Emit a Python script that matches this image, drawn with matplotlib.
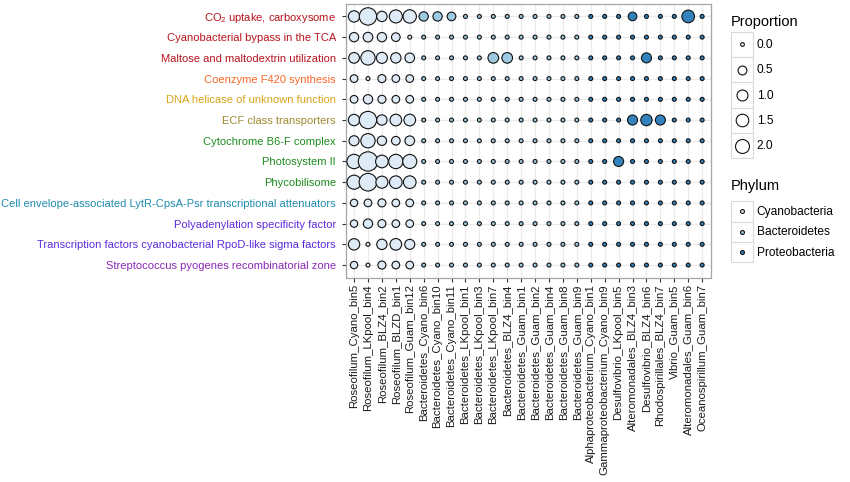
import numpy as np
import matplotlib
matplotlib.use("Agg")
import matplotlib.pyplot as plt
from matplotlib.lines import Line2D
from matplotlib.patches import Rectangle
from matplotlib.legend_handler import HandlerBase

plt.rcParams['font.family'] = ['Liberation Sans', 'DejaVu Sans']
plt.rcParams['mathtext.fontset'] = 'custom'
plt.rcParams['mathtext.rm'] = 'Liberation Sans'
plt.rcParams['mathtext.it'] = 'Liberation Sans:italic'

# ---------------- data ----------------
functions = [
    r"CO$_\mathrm{2}$ uptake, carboxysome",
    "Cyanobacterial bypass in the TCA",
    "Maltose and maltodextrin utilization",
    "Coenzyme F420 synthesis",
    "DNA helicase of unknown function",
    "ECF class transporters",
    "Cytochrome B6-F complex",
    "Photosystem II",
    "Phycobilisome",
    "Cell envelope-associated LytR-CpsA-Psr transcriptional attenuators",
    "Polyadenylation specificity factor",
    "Transcription factors cyanobacterial RpoD-like sigma factors",
    "Streptococcus pyogenes recombinatorial zone",
]
function_colors = ['#B8141E', '#B8141E', '#B8141E', '#F8692A', '#D9A41A', '#9E8B30',
                   '#1E8B1E', '#1E8B1E', '#1E8B1E', '#1F8AB0', '#5B2BDD', '#5B2BDD', '#8A28B5']

bins = [
    "Roseofilum_Cyano_bin5", "Roseofilum_LKpool_bin4", "Roseofilum_BLZ4_bin2",
    "Roseofilum_BLZD_bin1", "Roseofilum_Guam_bin12",
    "Bacteroidetes_Cyano_bin6", "Bacteroidetes_Cyano_bin10", "Bacteroidetes_Cyano_bin11",
    "Bacteroidetes_LKpool_bin1", "Bacteroidetes_LKpool_bin3", "Bacteroidetes_LKpool_bin7",
    "Bacteroidetes_BLZ4_bin4", "Bacteroidetes_Guam_bin1", "Bacteroidetes_Guam_bin2",
    "Bacteroidetes_Guam_bin4", "Bacteroidetes_Guam_bin8", "Bacteroidetes_Guam_bin9",
    "Alphaproteobacterium_Cyano_bin1", "Gammaproteobacterium_Cyano_bin9",
    "Desulfovibrio_LKpool_bin5", "Alteromonadales_BLZ4_bin3", "Desulfovibrio_BLZ4_bin6",
    "Rhodospirillales_BLZ4_bin7", "Vibrio_Guam_bin5", "Alteromonadales_Guam_bin6",
    "Oceanospirillum_Guam_bin7",
]
phylum = (["Cyanobacteria"] * 5 + ["Bacteroidetes"] * 12 + ["Proteobacteria"] * 9)
phyla = ["Cyanobacteria", "Bacteroidetes", "Proteobacteria"]
phylum_colors = {"Cyanobacteria": "#DEEBF7", "Bacteroidetes": "#9ECAE1", "Proteobacteria": "#3182BD"}

z = 0
proportion = [
    [0.95, 3.11, 0.71, 1.43, 1.53, 0.50, 0.50, 0.38, z, z, z, z, z, z, z, z, z, z, z, z, 0.38, z, z, z, 1.31, z],
    [0.50, 0.56, 0.50, 0.38, z, z, z, z, z, z, z, z, z, z, z, z, z, z, z, z, z, z, z, z, z, z],
    [0.78, 1.87, 0.87, 0.71, 0.56, z, z, z, z, z, 0.78, 0.78, z, z, z, z, z, z, z, z, z, 0.64, z, z, z, z],
    [0.24, z, 0.29, 0.24, 0.24, z, z, z, z, z, z, z, z, z, z, z, z, z, z, z, z, z, z, z, z, z],
    [0.24, 0.50, 0.29, 0.24, 0.24, z, z, z, z, z, z, z, z, z, z, z, z, z, z, z, z, z, z, z, z, z],
    [0.95, 3.11, 0.71, 1.03, 1.03, z, z, z, z, z, z, z, z, z, z, z, z, z, z, z, 0.64, 0.95, 0.64, z, z, z],
    [0.64, 1.87, 0.50, 0.38, 0.56, z, z, z, z, z, z, z, z, z, z, z, z, z, z, z, z, z, z, z, z, z],
    [1.87, 4.10, 1.31, 1.87, 1.77, z, z, z, z, z, z, z, z, z, z, z, z, z, z, 0.64, z, z, z, z, z, z],
    [1.77, 3.25, 1.14, 1.31, 1.31, z, z, z, z, z, z, z, z, z, z, z, z, z, z, z, z, z, z, z, z, z],
    [0.20, 0.24, 0.29, 0.24, 0.24, z, z, z, z, z, z, z, z, z, z, z, z, z, z, z, z, z, z, z, z, z],
    [0.20, 0.50, 0.29, 0.24, 0.24, z, z, z, z, z, z, z, z, z, z, z, z, z, z, z, z, z, z, z, z, z],
    [0.95, z, 0.71, 1.03, 0.64, z, z, z, z, z, z, z, z, z, z, z, z, z, z, z, z, z, z, z, z, z],
    [0.20, z, 0.29, 0.24, 0.24, z, z, z, z, z, z, z, z, z, z, z, z, z, z, z, z, z, z, z, z, z],
]
size_breaks = [0.0, 0.5, 1.0, 1.5, 2.0]

# ---------------- styling helpers ----------------
DPI = 100
W, H = 850, 482
EDGE_LW = 0.8  # pt


def diam_px(p):
    return 4.6 + 7.6 * np.sqrt(p)


def marker_pt(p):
    return diam_px(p) * 72.0 / DPI - EDGE_LW * 0.6


fig = plt.figure(figsize=(W / DPI, H / DPI), dpi=DPI)
left, right, top, bottom = 345.7, 710.5, 4.0, 277.5
ax = fig.add_axes([left / W, 1 - bottom / H, (right - left) / W, (bottom - top) / H])

prop = np.array(proportion, dtype=float)
nrow, ncol = prop.shape
xx, yy = np.meshgrid(np.arange(ncol), np.arange(nrow))
cols = np.array([[phylum_colors[phylum[j]] for j in range(ncol)] for i in range(nrow)])
sizes = marker_pt(prop) ** 2
ax.scatter(xx.ravel(), yy.ravel(), s=sizes.ravel(), c=cols.ravel(),
           edgecolors='#111111', linewidths=EDGE_LW, zorder=3, clip_on=False)

ax.set_xlim(-0.6, ncol - 0.4)
ax.set_ylim(nrow - 0.4, -0.6)
ax.set_xticks(np.arange(ncol))
ax.set_yticks(np.arange(nrow))
ax.set_xticklabels(bins, rotation=90, fontsize=8.2, color='#1a1a1a')
ax.set_yticklabels(functions, fontsize=8.0)
for lab, c in zip(ax.get_yticklabels(), function_colors):
    lab.set_color(c)
ax.tick_params(axis='both', length=2.8, width=0.8, color='#333333')
ax.tick_params(axis='y', pad=4.3)
ax.tick_params(axis='x', pad=2.0)
ax.grid(True, color='#EBEBEB', linewidth=0.9, zorder=0)
ax.set_axisbelow(True)
for sp in ax.spines.values():
    sp.set_color('#A6A6A6')
    sp.set_linewidth(0.9)


# ---------------- legends ----------------
class KeyHandler(HandlerBase):
    def create_artists(self, legend, orig_handle, xdescent, ydescent, width, height, fontsize, trans):
        rect = Rectangle((-xdescent, -ydescent), width, height, facecolor='white',
                         edgecolor='#D9D9D9', linewidth=0.8, transform=trans)
        m = Line2D([-xdescent + width / 2], [-ydescent + height / 2], marker='o', linestyle='none',
                   markersize=orig_handle.get_markersize(),
                   markerfacecolor=orig_handle.get_markerfacecolor(),
                   markeredgecolor=orig_handle.get_markeredgecolor(),
                   markeredgewidth=orig_handle.get_markeredgewidth(), transform=trans)
        return [rect, m]


FS = 8.6
LX = 731 / W
size_handles = [Line2D([], [], marker='o', linestyle='none', markersize=marker_pt(b) * 0.95,
                       markerfacecolor='white', markeredgecolor='#111111', markeredgewidth=EDGE_LW)
                for b in size_breaks]
leg1 = fig.legend(size_handles, [f"{b:.1f}" for b in size_breaks], loc='upper left',
                  bbox_to_anchor=(LX, 1 - 15 / H), bbox_transform=fig.transFigure,
                  frameon=False, borderpad=0, borderaxespad=0, fontsize=FS,
                  title='Proportion', title_fontsize=10.5, labelspacing=0,
                  handlelength=1.85, handleheight=2.88, handletextpad=0.3, alignment='left',
                  handler_map={Line2D: KeyHandler()})
leg1._legend_box.sep = 2

phy_handles = [Line2D([], [], marker='o', linestyle='none', markersize=marker_pt(0),
                      markerfacecolor=phylum_colors[p], markeredgecolor='#111111',
                      markeredgewidth=EDGE_LW) for p in phyla]
leg2 = fig.legend(phy_handles, phyla, loc='upper left',
                  bbox_to_anchor=(LX, 1 - 179 / H), bbox_transform=fig.transFigure,
                  frameon=False, borderpad=0, borderaxespad=0, fontsize=FS,
                  title='Phylum', title_fontsize=10.5, labelspacing=0,
                  handlelength=1.85, handleheight=2.23, handletextpad=0.3, alignment='left',
                  handler_map={Line2D: KeyHandler()})
leg2._legend_box.sep = 6

fig.savefig("out.png", dpi=DPI)
